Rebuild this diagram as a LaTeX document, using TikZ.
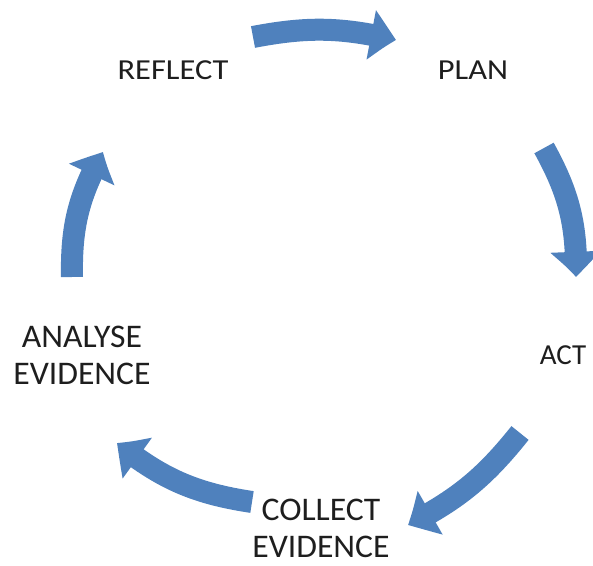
\documentclass[tikz,border=0pt]{standalone}
\usepackage{fontspec}
\setmainfont{Carlito}
\usetikzlibrary{arrows.meta,bending}
\definecolor{cycblue}{HTML}{4F81BD}
\definecolor{cyctext}{HTML}{1E1E1E}
\tikzset{
  stage/.style={align=center,text=cyctext,font=\fontsize{29}{36}\selectfont,inner sep=0pt},
  widestage/.style={stage,xscale=1.12},
  twostage/.style={stage,font=\fontsize{33}{37}\selectfont,xscale=1.02},
  cycarrow/.style={draw=cycblue,line width=22pt,-{Triangle[length=26pt,width=48pt,bend]}}
}
\begin{document}
\begin{tikzpicture}[x=1pt,y=1pt]
				\useasboundingbox (0,0) rectangle (593,565);
				\node [widestage] (reflect) at (173,495) {REFLECT};
				\node [widestage] (plan) at (473,495) {PLAN};
				\node [stage] (act) at (563,210) {ACT};
				\node [twostage] (collect) at (321,37) {COLLECT\\EVIDENCE};
				\node [twostage] (analyse) at (82,210) {ANALYSE\\EVIDENCE};
				\coordinate (t1) at (253,528);
				\coordinate (h1) at (396,525);
				\coordinate (t2) at (544,417);
				\coordinate (h2) at (576,288);
				\coordinate (t3) at (520,132);
				\coordinate (h3) at (408,40);
				\coordinate (t4) at (252,63);
				\coordinate (h4) at (117,122);
				\coordinate (t5) at (72,288);
				\coordinate (h5) at (103,413);
				\draw [cycarrow] (t1) to [bend left=12] (h1);
				\draw [cycarrow] (t2) to [bend left=15] (h2);
				\draw [cycarrow] (t3) to [bend left=12] (h3);
				\draw [cycarrow] (t4) to [bend left=15] (h4);
				\draw [cycarrow] (t5) to [bend left=15] (h5);
			\end{tikzpicture}
\end{document}
